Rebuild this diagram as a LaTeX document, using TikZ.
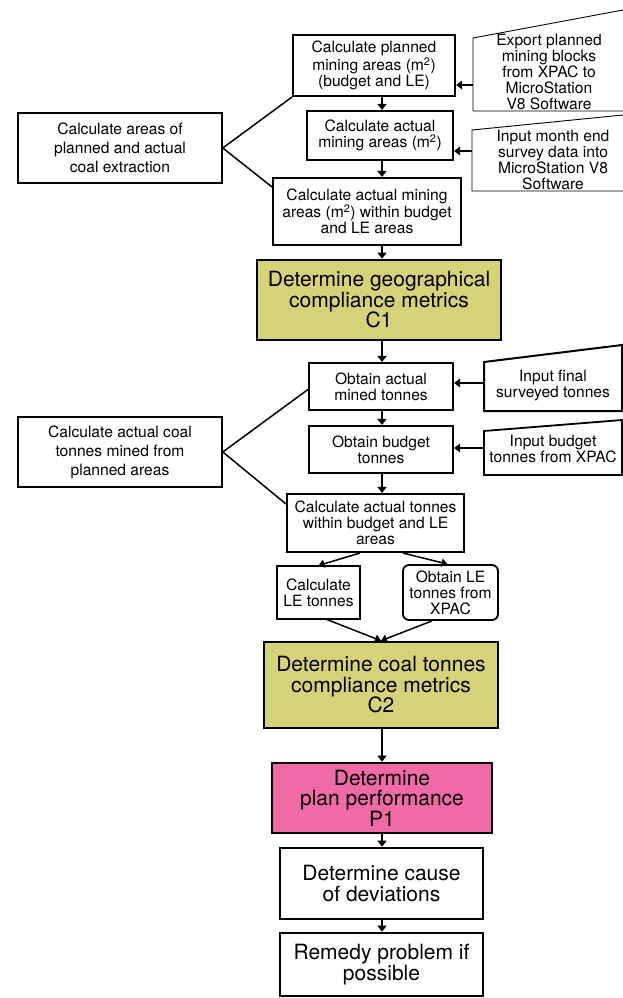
\documentclass[tikz,border=0pt]{standalone}
\usepackage{fontspec}
\setmainfont{TeX Gyre Heros}
\usetikzlibrary{arrows.meta,calc}

\definecolor{metricfill}{HTML}{D6D27A}
\definecolor{perffill}{HTML}{F06AA6}

\newcommand\smalltxt{\fontsize{15.6}{16}\selectfont}
\newcommand\sidetxt{\fontsize{15.6}{19}\selectfont}
\newcommand\bigtxt{\fontsize{21}{20.5}\selectfont}
\newcommand\sq{\textsuperscript{2}}

\begin{document}
\begin{tikzpicture}[x=1pt,y=-1pt,
  every node/.style={inner sep=0pt, align=center},
  box/.style={draw, line width=2.1pt, font=\smalltxt},
  sidebox/.style={draw, line width=1.6pt, font=\sidetxt},
  bigbox/.style={draw, line width=2.6pt, font=\bigtxt},
  flow/.style={line width=2pt, -{Triangle[length=6pt,width=9pt]}},
  feed/.style={line width=1.6pt, -{Triangle[length=6pt,width=8.5pt]}},
  branch/.style={line width=1.5pt, -{Triangle[length=6pt,width=8pt]}},
  link/.style={line width=1.5pt}]

\useasboundingbox (0,0) rectangle (623,998);
\fill[white] (0,0) rectangle (623,998);

% common vertical axis of the main flow
\coordinate (axis) at (382,0);

% ---------- area stage ----------
\node[box, minimum width=162pt, minimum height=61pt] (b1) at (374,65.5)
  {Calculate planned\\mining areas (m\sq)\\(budget and LE)};
\node[box, minimum width=146pt, minimum height=49pt] (b2) at (380,135.5)
  {Calculate actual\\mining areas (m\sq)};
\node[box, minimum width=188pt, minimum height=67pt] (b3) at (367,211.5)
  {Calculate actual mining\\areas (m\sq) within budget\\and LE areas};
\node[sidebox, minimum width=204pt, minimum height=70pt] (la) at (120,148)
  {Calculate areas of\\planned and actual\\coal extraction};

% input sheets feeding the area stage
\draw[line width=0.9pt] (623,10) -- (473,38) -- (473,111) -- (623,111);
\node[font=\smalltxt] (export) at (549,72)
  {Export planned\\mining blocks\\from XPAC to\\MicroStation\\V8 Software};
\coordinate (exL) at (473,85);
\draw[line width=0.9pt] (623,115) -- (472,130) -- (472,191) -- (623,191);
\node[font=\smalltxt] (survey) at (553,160)
  {Input month end\\survey data into\\MicroStation V8\\Software};
\coordinate (svL) at (472,151);

\node[bigbox, fill=metricfill, minimum width=244pt, minimum height=80pt] (c1) at (379,300)
  {Determine geographical\\compliance metrics\\C1};

% ---------- tonnes stage ----------
\node[box, minimum width=144pt, minimum height=47pt] (t1) at (381,386.5)
  {Obtain actual\\mined tonnes};
\node[box, minimum width=144pt, minimum height=47pt] (t2) at (381,449.5)
  {Obtain budget\\tonnes};
\node[box, minimum width=177pt, minimum height=58pt] (t3) at (375.5,523)
  {Calculate actual tonnes\\within budget and LE\\areas};
\node[sidebox, minimum width=204pt, minimum height=70pt] (lb) at (120,452)
  {Calculate actual coal\\tonnes mined from\\planned areas};

\draw[line width=2pt] (484,362) -- (622,345) -- (622,411) -- (484,411) -- cycle;
\node[font=\smalltxt] (final) at (553,385)
  {Input final\\surveyed tonnes};
\coordinate (fnL) at (484,383);
\draw[line width=1.8pt] (484,431) -- (622,420) -- (622,475) -- (484,475) -- cycle;
\node[font=\smalltxt] (budget) at (553,449)
  {Input budget\\tonnes from XPAC};
\coordinate (bgL) at (484,448);

\node[draw, line width=1.1pt, font=\smalltxt, minimum width=83pt, minimum height=53pt] (le1) at (318.5,592.5)
  {Calculate\\LE tonnes};
\node[draw, line width=1.8pt, rounded corners=6pt, font=\smalltxt, minimum width=95pt, minimum height=55pt] (le2) at (450.5,592.5)
  {Obtain LE\\tonnes from\\XPAC};

\node[bigbox, fill=metricfill, minimum width=234pt, minimum height=86pt] (c2) at (381,685)
  {Determine coal tonnes\\compliance metrics\\C2};

% ---------- performance ----------
\node[bigbox, fill=perffill, minimum width=220pt, minimum height=70pt] (p1) at (382,798)
  {Determine\\plan performance\\P1};
\node[bigbox, minimum width=203pt, minimum height=71pt] (d1) at (381.5,883.5)
  {Determine cause\\of deviations};
\node[bigbox, minimum width=203pt, minimum height=63pt] (r1) at (381.5,964.5)
  {Remedy problem if\\possible};

% ---------- connectors ----------
\draw[flow] (b1.south -| axis) -- (b2.north -| axis);
\draw[flow] (b2.south -| axis) -- (b3.north -| axis);
\draw[flow] (b3.south -| axis) -- (c1.north -| axis);
\draw[flow] (c1.south -| axis) -- (t1.north -| axis);
\draw[flow] (t1.south -| axis) -- (t2.north -| axis);
\draw[flow] (t2.south -| axis) -- (t3.north -| axis);
\draw[flow] (c2.south -| axis) -- (p1.north -| axis);
\draw[flow] (p1.south -| axis) -- (d1.north -| axis);
\draw[flow] (d1.south -| axis) -- (r1.north -| axis);

\draw[feed] (exL) -- (exL -| b1.east);
\draw[feed] (svL) -- (svL -| b2.east);
\draw[feed] (fnL) -- (fnL -| t1.east);
\draw[feed] (bgL) -- (bgL -| t2.east);

\draw[link] (b1.south west) -- (la.east) -- ([yshift=-10pt]b3.north west);
\draw[link] ([yshift=-3pt]t1.west) -- (lb.east) -- ([yshift=-11pt]t3.north west);

\draw[branch] ([xshift=-15.5pt]t3.south) -- (le1.north);
\draw[branch] ([xshift=27.5pt]t3.south) -- ([xshift=-3pt]le2.north);
\draw[branch] ([xshift=8.5pt]le1.south) -- (c2.north);
\draw[branch] ([xshift=-18.5pt]le2.south) -- (c2.north);

\end{tikzpicture}
\end{document}
